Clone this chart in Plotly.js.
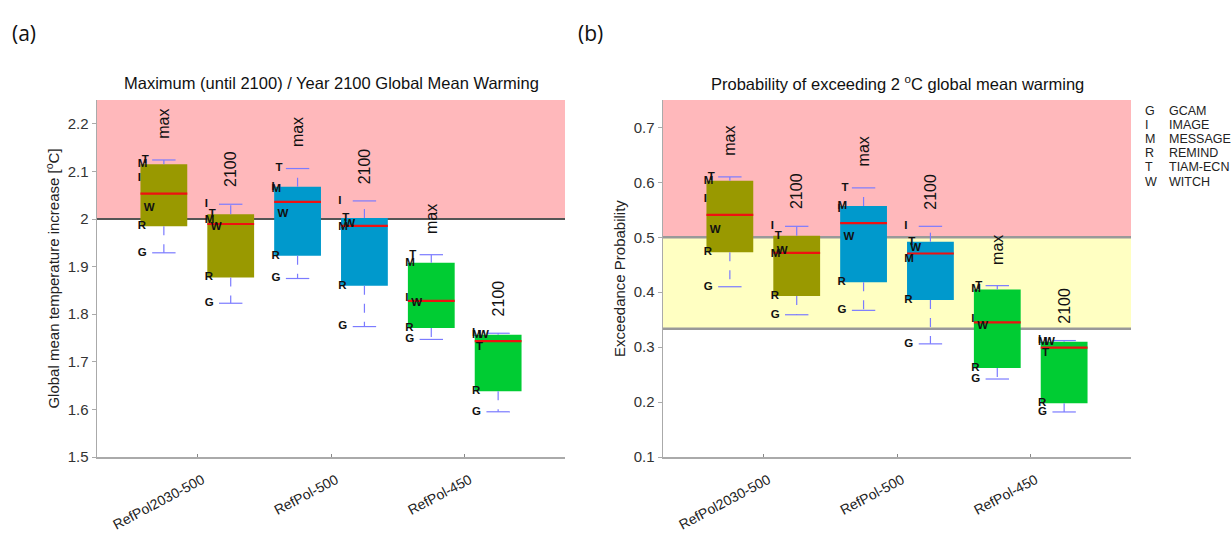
<!DOCTYPE html>
<html>
<head>
<meta charset="utf-8">
<script src="https://cdn.plot.ly/plotly-3.0.1.min.js"></script>
<style>
  html, body { margin: 0; padding: 0; background: #fff; }
  #chart { width: 1231px; height: 534px; }
</style>
</head>
<body>
<div id="chart"></div>
<script>
// --- data ---
const scenarios = ['RefPol2030-500', 'RefPol-500', 'RefPol-450'];
const modelKeys = ['G', 'I', 'M', 'R', 'T', 'W'];
const modelNames = ['GCAM', 'IMAGE', 'MESSAGE', 'REMIND', 'TIAM-ECN', 'WITCH'];
const timeLabels = ['max', '2100'];

// (a) global mean warming [°C]; one row per scenario, columns in modelKeys order
const warmingMax = [
    [1.929, 2.085, 2.115, 1.985, 2.124, 2.022],
    [1.875, 2.068, 2.062, 1.923, 2.106, 2.010],
    [1.747, 1.833, 1.908, 1.771, 1.925, 1.823]
];
const warming2100 = [
    [1.823, 2.031, 1.997, 1.877, 2.010, 1.982],
    [1.774, 2.038, 1.982, 1.860, 2.002, 1.989],
    [1.595, 1.760, 1.756, 1.638, 1.731, 1.757]
];

// (b) probability of exceeding 2 °C
const probMax = [
    [0.410, 0.569, 0.603, 0.473, 0.610, 0.513],
    [0.367, 0.552, 0.557, 0.418, 0.590, 0.500],
    [0.242, 0.351, 0.405, 0.262, 0.412, 0.339]
];
const prob2100 = [
    [0.359, 0.520, 0.469, 0.393, 0.503, 0.474],
    [0.306, 0.520, 0.461, 0.386, 0.492, 0.480],
    [0.182, 0.312, 0.309, 0.198, 0.289, 0.310]
];

const warmingLimit = 2;
const probUpper = 0.5;
const probLower = 1 / 3;

// --- style ---
const scenarioColors = ['#999900', '#0099cc', '#00cc33'];
const whiskerColor = '#7b7bff';
const font = "'Liberation Sans', Arial, sans-serif";
const W = 1231, H = 534;
const boxWidth = 0.35, groupOffset = 0.25;
// small nudge so overlapping letters stay readable (data units)
const letterNudge = { G: 0, I: 0, M: 0, R: 0, T: 0.03, W: 0.045 };

// percentile the way MATLAB's prctile does it
function prc(sorted, p) {
    const n = sorted.length;
    const pos = n * p + 0.5;
    if (pos <= 1) return sorted[0];
    if (pos >= n) return sorted[n - 1];
    const lo = Math.floor(pos), f = pos - lo;
    return sorted[lo - 1] + f * (sorted[lo] - sorted[lo - 1]);
}

function panelTraces(series, xa, ya) {
    const bx = [], base = [], h = [], cols = [];
    const mx = [], my = [], wx = [], wy = [], cx = [], cy = [];
    const tx = [], ty = [], tt = [];
    const notes = [];
    scenarios.forEach((sc, i) => {
        series.forEach((arr, t) => {
            const vals = arr[i];
            const s = vals.slice().sort((a, b) => a - b);
            const q1 = prc(s, 0.25), med = prc(s, 0.5), q3 = prc(s, 0.75);
            const lo = s[0], hi = s[s.length - 1];
            const c = (i + 1) + (t === 0 ? -groupOffset : groupOffset);
            bx.push(c); base.push(q1); h.push(q3 - q1); cols.push(scenarioColors[i]);
            mx.push(c - boxWidth / 2, c + boxWidth / 2, null); my.push(med, med, null);
            wx.push(c, c, null, c, c, null); wy.push(q3, hi, null, q1, lo, null);
            cx.push(c - boxWidth / 4, c + boxWidth / 4, null, c - boxWidth / 4, c + boxWidth / 4, null);
            cy.push(hi, hi, null, lo, lo, null);
            vals.forEach((v, k) => {
                tx.push(c - boxWidth / 2 - 0.02 + letterNudge[modelKeys[k]]);
                ty.push(v); tt.push(modelKeys[k]);
            });
            notes.push({
                xref: xa, yref: ya, x: c, y: hi, text: timeLabels[t], showarrow: false,
                textangle: -90, xanchor: 'center', yanchor: 'bottom', yshift: t === 0 ? 19 : 15,
                font: { family: font, size: 16, color: '#111' }
            });
        });
    });
    const traces = [
        { type: 'bar', x: bx, base: base, y: h, width: boxWidth, xaxis: xa, yaxis: ya,
          marker: { color: cols, line: { width: 0 } }, hoverinfo: 'skip' },
        { type: 'scatter', mode: 'lines', x: wx, y: wy, xaxis: xa, yaxis: ya,
          line: { color: whiskerColor, width: 1.2, dash: 'dash' }, hoverinfo: 'skip' },
        { type: 'scatter', mode: 'lines', x: cx, y: cy, xaxis: xa, yaxis: ya,
          line: { color: whiskerColor, width: 1.2 }, hoverinfo: 'skip' },
        { type: 'scatter', mode: 'lines', x: mx, y: my, xaxis: xa, yaxis: ya,
          line: { color: '#ee1111', width: 2.2 }, hoverinfo: 'skip' },
        { type: 'scatter', mode: 'text', x: tx, y: ty, text: tt, xaxis: xa, yaxis: ya,
          textposition: 'middle right', cliponaxis: false,
          textfont: { family: font, size: 11.5, color: '#111', weight: 'bold' }, hoverinfo: 'skip' }
    ];
    return { traces, notes };
}

const left = panelTraces([warmingMax, warming2100], 'x', 'y');
const right = panelTraces([probMax, prob2100], 'x2', 'y2');

const px = v => v / W;
const py = v => 1 - v / H;

const xCommon = {
    range: [0.25, 3.75], tickvals: [1, 2, 3], ticktext: scenarios, tickangle: -28,
    ticklabelstandoff: 8, ticklabelshift: 5,
    showline: true, linecolor: '#aaa', linewidth: 1.5, ticks: 'inside', ticklen: 3, tickcolor: '#888',
    showgrid: false, zeroline: false, fixedrange: true,
    tickfont: { family: font, size: 14, color: '#222' }
};
const yCommon = {
    showline: true, linecolor: '#aaa', linewidth: 1.5, ticks: 'outside', ticklen: 4, tickcolor: '#aaa',
    showgrid: false, zeroline: false, fixedrange: true,
    tickfont: { family: font, size: 15, color: '#333' }
};

function paperText(x, y, text, size, extra) {
    return Object.assign({ xref: 'paper', yref: 'paper', x: px(x), y: py(y), text: text,
        showarrow: false, xanchor: 'center', yanchor: 'middle',
        font: { family: font, size: size, color: '#111' } }, extra || {});
}

const annotations = [
    paperText(331, 83, 'Maximum (until 2100) / Year 2100 Global Mean Warming', 16.5),
    paperText(897, 83, 'Probability of exceeding 2 <sup>o</sup>C global mean warming', 16.5),
    paperText(10, 33, '(a)', 21, { xanchor: 'left', font: { family: 'Open Sans, sans-serif', size: 21, color: '#111' } }),
    paperText(576, 33, '(b)', 21, { xanchor: 'left', font: { family: 'Open Sans, sans-serif', size: 21, color: '#111' } })
];
modelKeys.forEach((k, i) => {
    const y = 111 + i * 14.1;
    annotations.push(paperText(1143, y, k, 12.5, { xanchor: 'left', font: { family: font, size: 12.5, color: '#222' } }));
    annotations.push(paperText(1167, y, modelNames[i], 12.5, { xanchor: 'left', font: { family: font, size: 12.5, color: '#222' } }));
});

const shapes = [
    { type: 'rect', xref: 'x domain', yref: 'y', x0: 0, x1: 1, y0: warmingLimit, y1: 2.25,
      fillcolor: '#ffb8bb', line: { width: 0 }, layer: 'below' },
    { type: 'line', xref: 'x domain', yref: 'y', x0: 0, x1: 1, y0: warmingLimit, y1: warmingLimit,
      line: { color: '#555', width: 2 }, layer: 'below' },
    { type: 'rect', xref: 'x2 domain', yref: 'y2', x0: 0, x1: 1, y0: probUpper, y1: 0.75,
      fillcolor: '#ffb8bb', line: { width: 0 }, layer: 'below' },
    { type: 'rect', xref: 'x2 domain', yref: 'y2', x0: 0, x1: 1, y0: probLower, y1: probUpper,
      fillcolor: '#ffffc2', line: { width: 0 }, layer: 'below' },
    { type: 'line', xref: 'x2 domain', yref: 'y2', x0: 0, x1: 1, y0: probUpper, y1: probUpper,
      line: { color: '#999', width: 2.5 }, layer: 'below' },
    { type: 'line', xref: 'x2 domain', yref: 'y2', x0: 0, x1: 1, y0: probLower, y1: probLower,
      line: { color: '#999', width: 2.5 }, layer: 'below' }
];

const layout = {
    width: W, height: H,
    margin: { l: 0, r: 0, t: 0, b: 0 },
    paper_bgcolor: '#fff', plot_bgcolor: 'rgba(0,0,0,0)',
    showlegend: false, barmode: 'overlay',
    font: { family: font, color: '#222' },
    xaxis: Object.assign({}, xCommon, { domain: [px(97), px(565)], anchor: 'y' }),
    yaxis: Object.assign({}, yCommon, {
        domain: [py(457), py(100)], anchor: 'x', range: [1.5, 2.25], tick0: 1.5, dtick: 0.1,
        title: { text: 'Global mean temperature increase [<sup>o</sup>C]', standoff: 4,
                 font: { family: font, size: 15, color: '#222' } }
    }),
    xaxis2: Object.assign({}, xCommon, { domain: [px(663), px(1131)], anchor: 'y2' }),
    yaxis2: Object.assign({}, yCommon, {
        domain: [py(457), py(100)], anchor: 'x2', range: [0.1, 0.75], tick0: 0.1, dtick: 0.1,
        title: { text: 'Exceedance Probability', standoff: 4,
                 font: { family: font, size: 15, color: '#222' } }
    }),
    shapes: shapes,
    annotations: annotations.concat(left.notes, right.notes)
};

Plotly.newPlot('chart', left.traces.concat(right.traces), layout, { displayModeBar: false, staticPlot: true });
</script>
</body>
</html>
